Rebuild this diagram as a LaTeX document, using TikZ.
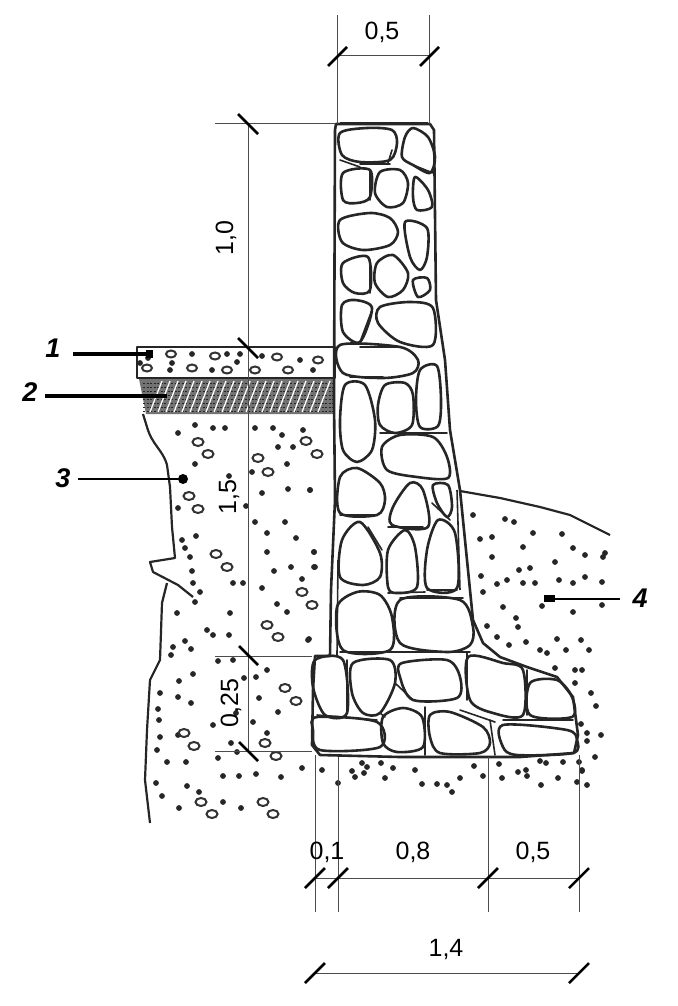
\documentclass[tikz,border=0pt]{standalone}
\usepackage{fontspec}
\setmainfont{Liberation Sans}
\tikzset{
  stone/.style={black!85, line width=2.6pt, line join=round, smooth cycle, tension=0.5},
  mortar/.style={black!85, line width=1.6pt, line cap=round},
  wall/.style={black!85, line width=2.6pt, line join=round},
  soil/.style={black!85, line width=2.2pt, line join=round},
  grain/.style={black!85},
  pebble/.style={black!80, line width=2pt},
  dimline/.style={black!70, line width=1pt},
  dimtick/.style={black, line width=2.5pt},
  dimtext/.style={font=\fontsize{25}{25}\selectfont, text=black, inner sep=0pt},
  marktext/.style={font=\fontsize{27}{27}\selectfont\bfseries\itshape, text=black, inner sep=0pt},
}
\begin{document}
\begin{tikzpicture}[x=1pt, y=-1pt]
        \useasboundingbox (0,0) rectangle (677,1006);

        % layer 1
        \draw[wall, line width=2.8pt] (137,347) -- (335,347) -- (335,378) -- (137,378) -- cycle;
        \foreach \px/\py in {171/354,215/356,192/368,227/370,277/357,255/370,288/370,318/360,147/368}
            \draw[pebble] (\px,\py) circle (5pt and 3.5pt);
        \foreach \px/\py in {192/354,227/354,172/363,237/362,300/360,212/370,313/370,140/363,170/370,148/358,240/354,262/356}
            \fill[grain] (\px,\py) circle (2.9pt);

        % layer 2
        \fill[black!55] (139,379) -- (334,379) -- (334,414) -- (146,414) -- cycle;
        \foreach \hy in {383,387,...,411}
            \draw[black!85, line width=0.8pt, dash pattern=on 2pt off 1.5pt] (143,\hy) -- (334,\hy);
        \foreach \hx in {150,158,...,325}
            \draw[white, line width=1.3pt] (\hx,412) -- (\hx+12,381);

        % soil, left edge
        \draw[soil] (143,414) -- (147,427) .. controls (152,445) and (163,450) .. (167,465) -- (170,487) -- (172,527) -- (175,558) -- (150,562) -- (153,572) -- (178,585) -- (193,597);
        \draw[soil] (167,583) -- (162,603) -- (160,660) -- (150,680) -- (147,730) -- (145,780) -- (150,823);

        % soil, right edge
        \draw[soil] (460,491) -- (500,498) -- (540,507) -- (570,515) -- (610,535);

        % grains, left
        \foreach \px/\py in {195/425,213/428,225/428,178/433,255/428,273/428,282/435,303/430,278/447,293/447,195/464,287/464,229/476,252/472,288/489,310/490,262/493,178/508,246/506,255/522,285/522,267/533,296/538,196/536,182/540,185/548,190/557,267/552,314/552,192/571,274/571,291/567,314/567,193/583,233/583,243/583,262/588,302/579,200/592,195/602,277/604,287/612,177/613,230/613,207/630,213/635,229/635,185/641,308/640,173/647,191/649,171/655,309/639,218/661,233/660,267/670,193/674,179/681,244/678,256/677,160/693,178/697,191/703,259/698,278/712,158/709,159/720,236/713,213/725,253/722,267/733,160/737,178/735,231/743,157/750,237/752,218/758,167/762,186/762,302/768,322/770,223/776,239/776,256/774,281/777,156/783,187/786,162/796,199/792,223/802,179/808,241/808}
            \fill[grain] (\px,\py) circle (2.9pt);

        % grains, right and below
        \foreach \px/\py in {473/515,505/519,514/522,533/533,562/534,480/539,492/537,523/547,573/548,585/555,605/553,603/557,492/557,555/562,519/570,530/568,481/576,507/580,497/584,523/583,535/583,559/580,573/583,585/577,602/582,483/592,503/607,542/606,602/605,573/612,516/618,518/627,487/626,497/637,509/645,526/642,557/639,581/640,566/650,589/650,540/650,547/653,555/668,575/670,582/670,575/683,591/693,596/706,581/724,587/733,587/741,601/735,595/757,582/770,314/552,315/567,310/490,362/763,367/767,352/771,364/773,355/777,381/763,393/768,385/778,338/783,415/770,422/784,437/784,447/785,452/792,460/778,474/766,483/776,499/764,502/778,518/772,526/770,527/776,540/761,546/763,563/762,541/785,558/778,579/762,582/771,577/782,587/785}
            \fill[grain] (\px,\py) circle (2.9pt);

        % pebbles
        \foreach \px/\py in {198/442,208/454,258/458,268/472,306/441,317/454,189/496,198/509,216/554,227/567,302/592,312/605,267/625,278/637,285/688,296/701,265/743,276/756,184/733,194/746,201/802,212/814,263/802,273/814}
            \draw[pebble] (\px,\py) circle (5.5pt and 4pt);

        % wall outline
        \draw[wall] (336,124) -- (430,124) -- (434,130) -- (436,300) -- (445,360) -- (450,430) -- (460,490) -- (467,560) -- (473,620) -- (483,643) -- (500,657) -- (527,667) -- (557,677) -- (573,697) -- (578,735) -- (574,753) -- (520,757) -- (400,757) -- (320,755) -- (312,745) -- (313,690) -- (315,656) -- (330,656) -- (331,590) -- (335,500) -- (334,400) -- (335,130) -- cycle;
        \draw[wall, line width=3pt] (340,124) -- (428,124);
        \draw[wall, line width=1.6pt] (337,655) -- (338,560);
        \draw[wall, line width=1.6pt] (457,490) -- (460,590);

        % wall stones
        \draw[stone] plot coordinates {(340,133) (367,128) (392,130) (397,143) (390,160) (360,162) (342,155)};
        \draw[stone] plot coordinates {(413,128) (428,137) (435,157) (430,173) (413,165) (402,157) (405,137)};
        \draw[stone] plot coordinates {(343,173) (370,170) (370,197) (357,203) (343,200)};
        \draw[stone] plot coordinates {(380,172) (400,170) (408,183) (403,203) (387,207) (375,193)};
        \draw[stone] plot coordinates {(415,177) (428,190) (432,207) (417,210) (413,197)};
        \draw[stone] plot coordinates {(340,220) (370,213) (390,218) (398,232) (390,245) (363,250) (342,242)};
        \draw[stone] plot coordinates {(405,222) (427,228) (427,257) (420,270) (410,257)};
        \draw[stone] plot coordinates {(343,263) (368,257) (370,290) (355,293) (343,283)};
        \draw[stone] plot coordinates {(377,263) (393,255) (408,273) (403,290) (388,297) (375,283)};
        \draw[stone] plot coordinates {(413,280) (427,278) (430,290) (418,297)};
        \draw[stone] plot coordinates {(342,305) (355,300) (372,308) (360,342) (343,332)};
        \draw[stone] plot coordinates {(380,307) (410,302) (433,308) (433,345) (400,342) (378,323)};
        \draw[stone] plot coordinates {(340,345) (400,347) (418,360) (413,373) (383,378) (343,373)};
        \draw[stone] plot coordinates {(345,385) (365,385) (375,420) (372,450) (357,462) (343,450) (340,420)};
        \draw[stone] plot coordinates {(385,385) (405,383) (413,395) (412,425) (395,433) (380,425) (378,405)};
        \draw[stone] plot coordinates {(420,370) (437,366) (441,400) (438,426) (420,427) (416,400)};
        \draw[stone] plot coordinates {(382,447) (400,435) (433,437) (447,457) (448,478) (417,477) (387,470)};
        \draw[stone] plot coordinates {(340,477) (357,468) (380,483) (385,500) (377,515) (340,513)};
        \draw[stone] plot coordinates {(393,507) (410,483) (423,490) (428,527) (392,525)};
        \draw[stone] plot coordinates {(433,485) (448,485) (452,507) (447,517) (437,503)};
        \draw[stone] plot coordinates {(342,540) (360,522) (380,553) (380,577) (363,585) (340,577)};
        \draw[stone] plot coordinates {(388,550) (405,530) (415,547) (417,587) (397,593) (388,587)};
        \draw[stone] plot coordinates {(427,550) (438,520) (455,533) (457,588) (427,588)};
        \draw[stone] plot coordinates {(337,607) (357,592) (380,595) (392,617) (390,650) (343,650)};
        \draw[stone] plot coordinates {(400,600) (460,600) (473,627) (470,645) (447,652) (400,643)};

        % foot stones
        \draw[stone] plot coordinates {(315,660) (343,660) (347,713) (325,715) (313,687)};
        \draw[stone] plot coordinates {(353,663) (390,660) (395,683) (380,713) (363,713) (352,693)};
        \draw[stone] plot coordinates {(402,663) (447,660) (460,677) (457,698) (413,700) (400,677)};
        \draw[stone] plot coordinates {(468,657) (503,663) (523,670) (523,715) (493,713) (470,700)};
        \draw[stone] plot coordinates {(530,683) (557,680) (572,697) (572,717) (530,715)};
        \draw[stone] plot coordinates {(317,717) (377,722) (380,747) (320,750) (313,730)};
        \draw[stone] plot coordinates {(383,717) (403,708) (422,717) (423,747) (397,752) (383,743)};
        \draw[stone] plot coordinates {(430,715) (450,712) (483,727) (490,743) (480,753) (440,753) (430,737)};
        \draw[stone] plot coordinates {(503,725) (567,730) (577,740) (573,753) (517,755) (503,747)};

        % joints
        \foreach \ax/\ay/\bx/\by in {340/160/360/167,392/150/388/163,360/164/390/164,413/165/433/173,370/170/370/200,370/260/370/293,372/310/360/342,360/347/400/347,350/377/383/377,380/433/447/433,340/515/377/515,400/598/463/598,427/590/457/590,388/527/423/527,368/527/382/550,388/593/425/592,432/503/450/520,340/652/470/652,395/683/413/700,425/707/425/755,490/720/495/755,503/720/573/720,467/653/467/700,527/670/527/715,347/660/347/713,317/715/377/720,380/713/385/717,460/710/495/722}
            \draw[mortar] (\ax,\ay) -- (\bx,\by);

        % top dimension
        \draw[dimline] (337,15) -- (337,124);
        \draw[dimline] (429,15) -- (429,124);
        \draw[dimline] (337,56) -- (429,56);
        \draw[dimtick] (328,66) -- (347,47);
        \draw[dimtick] (420,66) -- (439,47);
        \node[dimtext] (dimwidth) at (382,32) {0,5};

        % left dimensions
        \draw[dimline] (215,124) -- (335,124);
        \draw[dimline] (215,656) -- (312,656);
        \draw[dimline] (215,751) -- (312,751);
        \draw[dimline] (248,124) -- (248,751);
        \draw[dimtick] (238,114) -- (258,134);
        \draw[dimtick] (238,338) -- (258,358);
        \draw[dimtick] (239,646) -- (258,665);
        \draw[dimtick] (239,742) -- (258,761);
        \node[dimtext, rotate=90] (dimupper) at (226,238) {1,0};
        \node[dimtext, rotate=90] (dimlower) at (229,497) {1,5};
        \node[dimtext, rotate=90] (dimfoot) at (231,703) {0,25};

        % bottom dimensions
        \draw[dimline] (315,755) -- (315,912);
        \draw[dimline] (338,757) -- (338,912);
        \draw[dimline] (488,757) -- (488,912);
        \draw[dimline] (579,755) -- (579,912);
        \draw[dimline] (315,878) -- (579,878);
        \draw[dimtick] (305,888) -- (325,868);
        \draw[dimtick] (328,888) -- (348,868);
        \draw[dimtick] (478,888) -- (498,868);
        \draw[dimtick] (569,888) -- (589,868);
        \node[dimtext] (dimtoe) at (327,852) {0,1};
        \node[dimtext] (dimmid) at (413,852) {0,8};
        \node[dimtext] (dimheel) at (533,852) {0,5};
        \draw[dimline] (315,973) -- (579,973);
        \draw[dimtick] (305,983) -- (325,963);
        \draw[dimtick] (569,983) -- (589,963);
        \node[dimtext] (dimbase) at (446,949) {1,4};

        % marks
        \node[marktext] (mark1) at (53,348) {1};
        \node[marktext] (mark2) at (30,392) {2};
        \node[marktext] (mark3) at (63,478) {3};
        \node[marktext] (mark4) at (640,598) {4};
        \coordinate (end1) at (153,354);
        \coordinate (end2) at (167,396);
        \coordinate (end3) at (183,479);
        \coordinate (end4) at (548,599);
        \draw[black, line width=4pt] (73,354) -- (end1);
        \fill[black] (146,350) rectangle (153,358);
        \draw[black, line width=4.5pt] (45,396) -- (end2);
        \draw[black, line width=1.5pt] (78,479) -- (end3);
        \fill[black] (end3) circle (5pt);
        \draw[black, line width=2.5pt] (620,599) -- (end4);
        \fill[black] (544,595) rectangle (555,602);
    \end{tikzpicture}
\end{document}
